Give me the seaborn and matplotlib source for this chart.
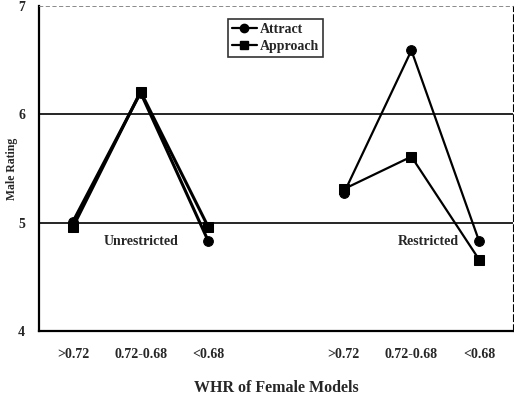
import matplotlib
matplotlib.use("Agg")
import matplotlib.pyplot as plt
import seaborn as sns
import pandas as pd
from matplotlib.lines import Line2D

# categories (7 slots, the middle one is a gap between the two conditions)
slots = [">0.72", "0.72-0.68", "<0.68", "", ">0.72", "0.72-0.68", "<0.68"]
unres_pos = [0, 1, 2]
res_pos = [4, 5, 6]

attract_unres = [5.01, 6.20, 4.83]
approach_unres = [4.96, 6.21, 4.96]
attract_res = [5.27, 6.59, 4.83]
approach_res = [5.31, 5.61, 4.66]

rows = []
for cond, pos, att, app in [("Unrestricted", unres_pos, attract_unres, approach_unres),
                            ("Restricted", res_pos, attract_res, approach_res)]:
    for p, a, b in zip(pos, att, app):
        rows.append({"cond": cond, "pos": p, "measure": "Attract", "rating": a})
        rows.append({"cond": cond, "pos": p, "measure": "Approach", "rating": b})
df = pd.DataFrame(rows)

sns.set_style("white")
plt.rcParams["font.family"] = ["Liberation Serif", "DejaVu Serif"]
plt.rcParams["font.weight"] = "bold"

fig = plt.figure(figsize=(5.14, 3.98), dpi=100)
ax = fig.add_axes([0.076, 0.168, 0.922, 0.817])

markers = {"Attract": "o", "Approach": "s"}
lw = {"Unrestricted": 2.2, "Restricted": 1.6}
for cond in ["Unrestricted", "Restricted"]:
    for meas in ["Attract", "Approach"]:
        sub = df[(df.cond == cond) & (df.measure == meas)]
        sns.lineplot(data=sub, x="pos", y="rating", ax=ax, color="black",
                     marker=markers[meas], markersize=7, markeredgecolor="black",
                     linewidth=lw[cond], legend=False)

ax.set_xlim(-0.5, 6.5)
ax.set_ylim(4, 7)
ax.set_yticks([4, 5, 6, 7])
ax.set_yticklabels(["4", "5", "6", "7"], fontsize=10, fontweight="bold")
for y in [5, 6]:
    ax.axhline(y, color="black", linewidth=1.2, zorder=0)

ax.set_xticks([i - 0.5 for i in range(8)])
ax.set_xticklabels([])
ax.set_xticks(range(7), minor=True)
ax.set_xticklabels(slots, minor=True, fontsize=10, fontweight="bold")
ax.tick_params(axis="x", which="major", direction="out", length=4, width=1.2, color="black")
ax.tick_params(axis="x", which="minor", length=0, pad=12)
ax.tick_params(axis="y", direction="out", length=4, width=1.2, color="black", pad=6)

for s in ["left", "bottom"]:
    ax.spines[s].set_color("black")
    ax.spines[s].set_linewidth(1.6)
ax.spines["right"].set_color("black")
ax.spines["right"].set_linewidth(0.8)
ax.spines["right"].set_linestyle((0, (6, 3)))
ax.spines["top"].set_color("#777777")
ax.spines["top"].set_linewidth(0.6)
ax.spines["top"].set_linestyle((0, (4, 4)))

ax.text(1, 4.83, "Unrestricted", ha="center", va="center", fontsize=10, fontweight="bold")
ax.text(5.25, 4.83, "Restricted", ha="center", va="center", fontsize=10, fontweight="bold")

ax.set_ylabel("Male Rating", fontsize=8.5, fontweight="bold")
ax.yaxis.set_label_coords(-0.044, 0.5)
ax.set_xlabel("WHR of Female Models", fontsize=11.5, fontweight="bold", labelpad=14)

handles = [Line2D([], [], color="black", marker="o", markersize=6, linewidth=1.6, label="Attract"),
           Line2D([], [], color="black", marker="s", markersize=6, linewidth=1.6, label="Approach")]
leg = ax.legend(handles=handles, loc="upper left", bbox_to_anchor=(0.398, 0.96),
                fontsize=10, frameon=True, fancybox=False, handlelength=1.8,
                handletextpad=0.2, borderpad=0.3, labelspacing=0.3, borderaxespad=0)
leg.get_frame().set_edgecolor("black")
leg.get_frame().set_linewidth(1.2)
for t in leg.get_texts():
    t.set_fontweight("bold")

fig.savefig("out.png", dpi=100)
